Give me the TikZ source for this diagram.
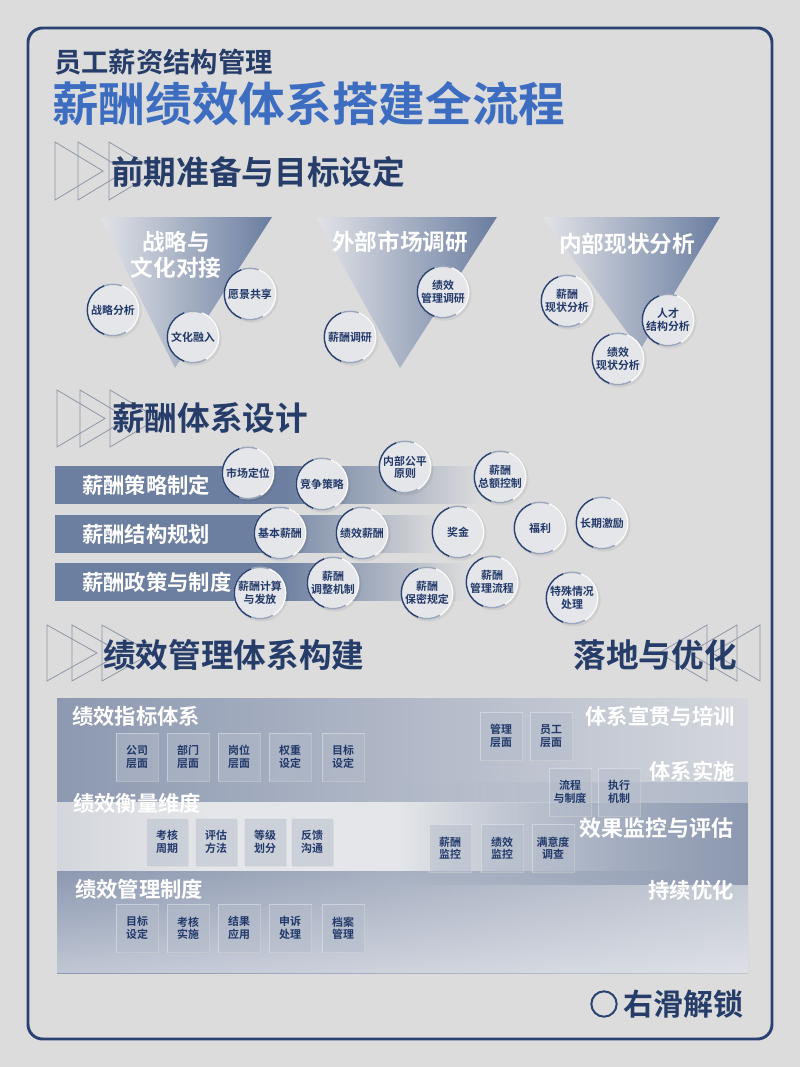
\documentclass[tikz,border=0pt]{standalone}
\usepackage{fontspec}
\setmainfont{Noto Sans CJK SC}[BoldFont={Noto Sans CJK SC Bold}]
\usetikzlibrary{fadings}
\definecolor{bgc}{HTML}{DCDCDC}
\definecolor{navy}{HTML}{2A4272}
\definecolor{tblue}{HTML}{3D6DC0}
\definecolor{headc}{HTML}{263C69}
\definecolor{func}{HTML}{6A7DA0}
\definecolor{funl}{HTML}{E2E3E7}
\definecolor{barc}{HTML}{6C7FA0}
\definecolor{panc}{HTML}{8D99B1}
\definecolor{panl}{HTML}{D4D7DD}
\definecolor{bubf}{HTML}{E5E6E9}
\definecolor{cardf}{HTML}{B4BCCB}
\definecolor{ctext}{HTML}{22396A}
\definecolor{tric}{HTML}{8E96A6}
\definecolor{midl}{HTML}{D3D6DC}
\definecolor{midw}{HTML}{E4E6E9}
\definecolor{midr}{HTML}{BEC5D0}
\pgfdeclarehorizontalshading{barfade}{100bp}{color(0bp)=(barc); color(25bp)=(barc); color(52bp)=(barc); color(75bp)=(bgc); color(100bp)=(bgc)}
\pgfdeclarehorizontalshading{midband}{100bp}{color(0bp)=(midl); color(25bp)=(midl); color(36bp)=(midw); color(50bp)=(midw); color(75bp)=(midr); color(100bp)=(midr)}
\tikzfading[name=fadein, left color=transparent!100, right color=transparent!0]
\tikzfading[name=fadedown, top color=transparent!100, bottom color=transparent!55]
\newcommand\bub[4]{%
  \fill[black, opacity=.06] ([shift={(1.2pt,-1.2pt)}]#2*0.75pt,-#3*0.75pt) circle[radius=20.3pt];
  \node[bub] (#1) at (#2,#3) {#4};
  \draw[white!85!bgc, line width=1pt] (#1.center) circle[radius=19.3pt];
  \draw[navy, line width=1.1pt, opacity=.45] (#1.center) ++(70:19.3pt) arc[start angle=70, end angle=110, radius=19.3pt];
  \draw[navy, line width=1.1pt] (#1.center) ++(110:19.3pt) arc[start angle=110, end angle=250, radius=19.3pt];
  \draw[navy, line width=1.1pt, opacity=.45] (#1.center) ++(250:19.3pt) arc[start angle=250, end angle=300, radius=19.3pt];
}
\newcommand\htri[4]{\draw[htri] (#1,#2) -- (#1+#3,#2+#4/2) -- (#1,#2+#4) -- cycle;}
\newcommand\htril[4]{\draw[htri] (#1,#2) -- (#1-#3,#2+#4/2) -- (#1,#2+#4) -- cycle;}
\begin{document}
\begin{tikzpicture}[x=0.75pt,y=-0.75pt,
  bub/.style={circle, inner sep=0pt, minimum size=38.6pt, fill=bubf, text=ctext,
    font=\bfseries\fontsize{8.2}{9.3}\selectfont, align=center},
  card/.style={rectangle, inner sep=0pt, minimum width=31.5pt, minimum height=36pt,
    fill=cardf, fill opacity=.5, text opacity=1, draw=white, draw opacity=.35, line width=.5pt,
    text=ctext, font=\bfseries\fontsize{8.2}{9.3}\selectfont, align=center},
  cardsh/.style={draw=black!55, draw opacity=.25, line width=.8pt},
  htri/.style={draw=tric, line width=.6pt},
  head/.style={anchor=west, inner sep=0pt, text=headc, font=\bfseries\fontsize{24.5}{28}\selectfont},
  funt/.style={inner sep=0pt, text=white, font=\bfseries\fontsize{17}{19.5}\selectfont, align=center},
  bart/.style={anchor=west, inner sep=0pt, text=white, font=\bfseries\fontsize{16}{18}\selectfont},
  pant/.style={inner sep=0pt, text=white, font=\bfseries\fontsize{16}{18}\selectfont}
]
\useasboundingbox (0,0) rectangle (800,1067);
\fill[bgc] (0,0) rectangle (800,1067);
\draw[navy, line width=2.2pt, rounded corners=11pt] (28,28) rectangle (772,1039);

% titles
\node[anchor=west, inner sep=0pt, text=headc, font=\bfseries\fontsize{20.5}{24}\selectfont] (sub) at (54,62) {员工薪资结构管理};
\node[anchor=west, inner sep=0pt, text=tblue, font=\bfseries\fontsize{35}{40}\selectfont] (title) at (52,104) {薪酬绩效体系搭建全流程};

% ===== section 1 =====
\htri{55}{142}{48}{58}\htri{78}{142}{48}{58}\htri{109}{142}{48}{58}
\node[head] (h1) at (111,172) {前期准备与目标设定};

\shade[left color=funl, right color=func] (100,217) -- (272,217) -- (175,368) -- cycle;
\shade[left color=funl, right color=func] (316,217) -- (497,217) -- (400,368) -- cycle;
\shade[left color=funl, right color=func] (543,217) -- (720,217) -- (640,350) -- cycle;
\node[funt] (f1) at (176,255) {战略与\\文化对接};
\node[funt] (f2) at (400,242) {外部市场调研};
\node[funt] (f3) at (627,244) {内部现状分析};

\bub{b11}{113}{310}{战略分析}
\bub{b12}{193}{337}{文化融入}
\bub{b13}{250}{294}{愿景共享}
\bub{b21}{350}{337}{薪酬调研}
\bub{b22}{443}{292}{绩效\\管理调研}
\bub{b31}{567}{301}{薪酬\\现状分析}
\bub{b32}{668}{320}{人才\\结构分析}
\bub{b33}{618}{359}{绩效\\现状分析}

% ===== section 2 =====
\htri{57}{390}{48}{57}\htri{80}{390}{48}{57}\htri{110}{390}{48}{57}
\node[head] (h2) at (112,418) {薪酬体系设计};

\shade[shading=barfade] (55,466) rectangle (482,503);
\shade[shading=barfade] (55,515) rectangle (440,552);
\shade[shading=barfade] (55,563) rectangle (468,600);
\node[bart] (r1) at (82,485) {薪酬策略制定};
\node[bart] (r2) at (82,534) {薪酬结构规划};
\node[bart] (r3) at (82,582) {薪酬政策与制度};

\bub{c11}{248}{473}{市场定位}
\bub{c12}{322}{484}{竞争策略}
\bub{c13}{405}{467}{内部公平\\原则}
\bub{c14}{500}{477}{薪酬\\总额控制}
\bub{c21}{280}{533}{基本薪酬}
\bub{c22}{362}{533}{绩效薪酬}
\bub{c23}{458}{532}{奖金}
\bub{c24}{540}{528}{福利}
\bub{c25}{602}{523}{长期激励}
\bub{c31}{260}{593}{薪酬计算\\与发放}
\bub{c32}{333}{583}{薪酬\\调整机制}
\bub{c33}{427}{593}{薪酬\\保密规定}
\bub{c34}{492}{582}{薪酬\\管理流程}
\bub{c35}{572}{598}{特殊情况\\处理}

% ===== section 3 =====
\htri{47}{625}{50}{56}\htri{72}{625}{50}{56}\htri{102}{625}{50}{56}
\node[head] (h3) at (103,655) {绩效管理体系构建};
\htril{707}{625}{48}{56}\htril{737}{625}{48}{56}\htril{760}{625}{48}{56}
\node[head, anchor=east] (h4) at (737,655) {落地与优化};

% panels
\shade[left color=panc, right color=panl] (57,698) rectangle (748,802);
\shade[left color=panc, right color=panl!75!panc] (57,870) rectangle (748,973);
\fill[white, path fading=fadedown] (57,870) rectangle (748,973);
\shade[shading=midband] (57,802) rectangle (748,870);
\fill[panc!70!white, path fading=fadein] (400,782) rectangle (748,803);
\fill[panc, path fading=fadein] (400,803) rectangle (748,885);

\node[pant, anchor=west] (p1) at (72,716) {绩效指标体系};
\node[pant, anchor=west] (p2) at (73,803) {绩效衡量维度};
\node[pant, anchor=west] (p3) at (75,889) {绩效管理制度};
\node[pant, anchor=east] (q1) at (735,716) {体系宣贯与培训};
\node[pant, anchor=east] (q2) at (735,771) {体系实施};
\node[pant, anchor=east, font=\bfseries\fontsize{16.5}{18}\selectfont] (q3) at (734,828) {效果监控与评估};
\node[pant, anchor=east] (q4) at (734,890) {持续优化};

% cards
\foreach \n/\x/\y/\t in {
  k11/137/757/{公司\\层面}, k12/188/757/{部门\\层面}, k13/239/757/{岗位\\层面}, k14/290/757/{权重\\设定}, k15/343/757/{目标\\设定},
  k21/167/842/{考核\\周期}, k22/216/842/{评估\\方法}, k23/265/842/{等级\\划分}, k24/312/842/{反馈\\沟通},
  k31/137/928/{目标\\设定}, k32/188/928/{考核\\实施}, k33/239/928/{结果\\应用}, k34/290/928/{申诉\\处理}, k35/343/928/{档案\\管理},
  m11/501/736/{管理\\层面}, m12/551/736/{员工\\层面},
  m21/570/792/{流程\\与制度}, m22/619/792/{执行\\机制},
  m31/450/848/{薪酬\\监控}, m32/502/848/{绩效\\监控}, m33/553/848/{满意度\\调查}}{
  \draw[cardsh] (\x-20,\y+24.5) -- (\x+21.5,\y+24.5) -- (\x+21.5,\y-23);
  \node[card] (\n) at (\x,\y) {\t};
}

% bottom
\node[circle, draw=navy, line width=1.5pt, inner sep=0pt, minimum size=19pt] (dot) at (604,1004) {};
\node[anchor=west, inner sep=0pt, text=headc, font=\bfseries\fontsize{22.5}{26}\selectfont] (unlock) at (623,1004) {右滑解锁};
\end{tikzpicture}
\end{document}
